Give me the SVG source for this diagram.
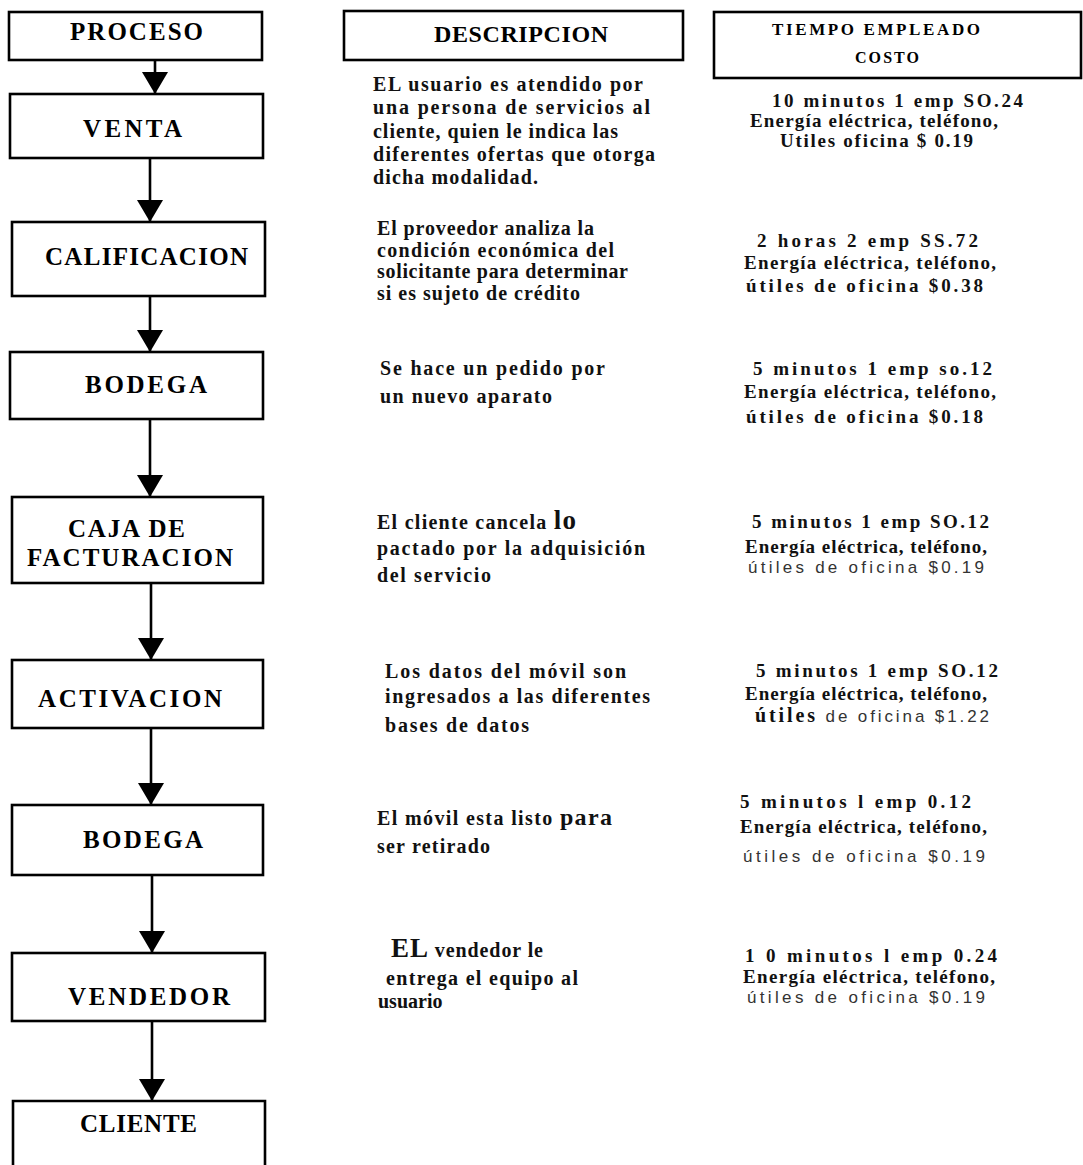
<svg xmlns="http://www.w3.org/2000/svg" width="1083" height="1165" viewBox="0 0 1083 1165">
<style>
.box{fill:none;stroke:#000;stroke-width:2.6}
.con{fill:none;stroke:#000;stroke-width:2.6}
.bt{font-family:"Liberation Serif","Times New Roman",serif;font-weight:bold;font-size:25px;fill:#000}
.h{font-family:"Liberation Serif","Times New Roman",serif;font-weight:bold;fill:#000}
.d{font-family:"Liberation Serif","Times New Roman",serif;font-weight:bold;font-size:20px;fill:#111}
.c{font-family:"Liberation Serif","Times New Roman",serif;font-weight:bold;font-size:19px;fill:#111}
.s{font-family:"Liberation Sans",Arial,sans-serif;font-weight:normal;font-size:17px;fill:#333}
.k{font-weight:bold}
</style>
<defs>
<marker id="ah" markerUnits="userSpaceOnUse" markerWidth="22" markerHeight="26" refX="22" refY="13" orient="auto">
<path d="M0,0 L22,13 L0,26 z" fill="#000"/>
</marker>
</defs>
<rect width="1083" height="1165" fill="#fff"/>

<g id="connectors">
<line class="con" x1="155" y1="60" x2="155" y2="94" marker-end="url(#ah)"/>
<line class="con" x1="150" y1="158" x2="150" y2="222" marker-end="url(#ah)"/>
<line class="con" x1="150" y1="296" x2="150" y2="352" marker-end="url(#ah)"/>
<line class="con" x1="150" y1="419" x2="150" y2="497" marker-end="url(#ah)"/>
<line class="con" x1="151" y1="583" x2="151" y2="660" marker-end="url(#ah)"/>
<line class="con" x1="151" y1="728" x2="151" y2="805" marker-end="url(#ah)"/>
<line class="con" x1="152" y1="875" x2="152" y2="953" marker-end="url(#ah)"/>
<line class="con" x1="152" y1="1021" x2="152" y2="1101" marker-end="url(#ah)"/>
</g>

<g id="node-proceso">
<rect class="box" x="9" y="12" width="253" height="48"/>
<text class="bt" x="70" y="40" textLength="133">PROCESO</text>
</g>
<g id="node-descripcion-header">
<rect class="box" x="344" y="11" width="339" height="49"/>
<text class="h" x="434" y="42" font-size="24" textLength="174">DESCRIPCION</text>
</g>
<g id="node-tiempo-header">
<rect class="box" x="714" y="12" width="367" height="66"/>
<text class="h" x="772" y="35" font-size="17" textLength="208">TIEMPO  EMPLEADO</text>
<text class="h" x="855" y="63" font-size="16" textLength="64">COSTO</text>
</g>

<g id="node-venta">
<rect class="box" x="10" y="94" width="253" height="64"/>
<text class="bt" x="83" y="137" textLength="99">VENTA</text>
</g>
<g id="node-calificacion">
<rect class="box" x="12" y="222" width="253" height="74"/>
<text class="bt" x="45" y="265" textLength="203">CALIFICACION</text>
</g>
<g id="node-bodega1">
<rect class="box" x="10" y="352" width="253" height="67"/>
<text class="bt" x="85" y="393" textLength="122">BODEGA</text>
</g>
<g id="node-caja">
<rect class="box" x="12" y="497" width="251" height="86"/>
<text class="bt" x="68" y="537" textLength="117">CAJA DE</text>
<text class="bt" x="27" y="566" font-size="27" textLength="206">FACTURACION</text>
</g>
<g id="node-activacion">
<rect class="box" x="12" y="660" width="251" height="68"/>
<text class="bt" x="38" y="707" textLength="184">ACTIVACION</text>
</g>
<g id="node-bodega2">
<rect class="box" x="12" y="805" width="251" height="70"/>
<text class="bt" x="83" y="848" textLength="120">BODEGA</text>
</g>
<g id="node-vendedor">
<rect class="box" x="12" y="953" width="253" height="68"/>
<text class="bt" x="68" y="1005" textLength="162">VENDEDOR</text>
</g>
<g id="node-cliente">
<path class="box" d="M13,1168 V1101 H265 V1168"/>
<text class="bt" x="80" y="1132" textLength="117">CLIENTE</text>
</g>

<g id="desc-1">
<text class="d" x="373" y="91" textLength="270">EL usuario es atendido por</text>
<text class="d" x="373" y="114" textLength="277">una persona de servicios al</text>
<text class="d" x="373" y="138" textLength="245">cliente, quien le indica las</text>
<text class="d" x="373" y="161" textLength="282">diferentes ofertas que otorga</text>
<text class="d" x="373" y="184" textLength="165">dicha   modalidad.</text>
</g>
<g id="cost-1">
<text class="c" x="772" y="107" textLength="251">10 minutos 1 emp SO.24</text>
<text class="c" x="750" y="127" textLength="248">Energía eléctrica, teléfono,</text>
<text class="c" x="780" y="147" textLength="193">Utiles oficina $ 0.19</text>
</g>

<g id="desc-2">
<text class="d" x="377" y="235" textLength="217">El proveedor analiza la</text>
<text class="d" x="377" y="257" textLength="237">condición económica del</text>
<text class="d" x="377" y="278" textLength="251">solicitante para determinar</text>
<text class="d" x="377" y="300" textLength="203">si es sujeto de crédito</text>
</g>
<g id="cost-2">
<text class="c" x="757" y="247" textLength="221">2 horas 2 emp SS.72</text>
<text class="c" x="744" y="269" textLength="252">Energía eléctrica, teléfono,</text>
<text class="c" x="746" y="292" textLength="237">útiles de oficina $0.38</text>
</g>

<g id="desc-3">
<text class="d" x="380" y="375" textLength="225">Se hace un pedido por</text>
<text class="d" x="380" y="403" textLength="172">un nuevo aparato</text>
</g>
<g id="cost-3">
<text class="c" x="753" y="375" textLength="239">5 minutos 1 emp so.12</text>
<text class="c" x="744" y="398" textLength="252">Energía eléctrica, teléfono,</text>
<text class="c" x="746" y="423" textLength="237">útiles de oficina $0.18</text>
</g>

<g id="desc-4">
<text class="d" x="377" y="529" textLength="199">El cliente cancela <tspan font-size="27">lo</tspan></text>
<text class="d" x="377" y="555" textLength="268">pactado por la adquisición</text>
<text class="d" x="377" y="582" textLength="114">del servicio</text>
</g>
<g id="cost-4">
<text class="c" x="752" y="528" font-size="20" textLength="237">5 minutos 1 emp SO.12</text>
<text class="c" x="745" y="553" textLength="242">Energía eléctrica, teléfono,</text>
<text class="s" x="748" y="573" textLength="236">útiles de oficina $0.19</text>
</g>

<g id="desc-5">
<text class="d" x="385" y="678" font-size="21" textLength="241">Los datos del móvil son</text>
<text class="d" x="385" y="703" font-size="21" textLength="265">ingresados a las diferentes</text>
<text class="d" x="385" y="732" textLength="144">bases de datos</text>
</g>
<g id="cost-5">
<text class="c" x="756" y="677" font-size="20" textLength="242">5 minutos 1 emp SO.12</text>
<text class="c" x="745" y="700" font-size="21" textLength="242">Energía eléctrica, teléfono,</text>
<text class="s" x="755" y="722" textLength="234"><tspan class="k" font-family="Liberation Serif, serif" font-size="20" fill="#111">útiles</tspan> de oficina $1.22</text>
</g>

<g id="desc-6">
<text class="d" x="377" y="825" textLength="235">El móvil esta listo <tspan font-size="24">para</tspan></text>
<text class="d" x="377" y="853" textLength="113">ser retirado</text>
</g>
<g id="cost-6">
<text class="c" x="740" y="808" font-size="20" textLength="231">5 minutos l emp 0.12</text>
<text class="c" x="740" y="833" textLength="247">Energía eléctrica, teléfono,</text>
<text class="s" x="743" y="862" textLength="242">útiles de oficina $0.19</text>
</g>

<g id="desc-7">
<text class="d" x="391" y="957" textLength="152"><tspan font-size="27">EL</tspan> vendedor le</text>
<text class="d" x="386" y="985" textLength="192">entrega el equipo al</text>
<text class="d" x="378" y="1008" font-size="17">usuario</text>
</g>
<g id="cost-7">
<text class="c" x="745" y="962" font-size="20" textLength="252">1 0  minutos l emp 0.24</text>
<text class="c" x="743" y="983" textLength="252">Energía eléctrica, teléfono,</text>
<text class="s" x="747" y="1003" textLength="238">útiles de oficina $0.19</text>
</g>
</svg>
